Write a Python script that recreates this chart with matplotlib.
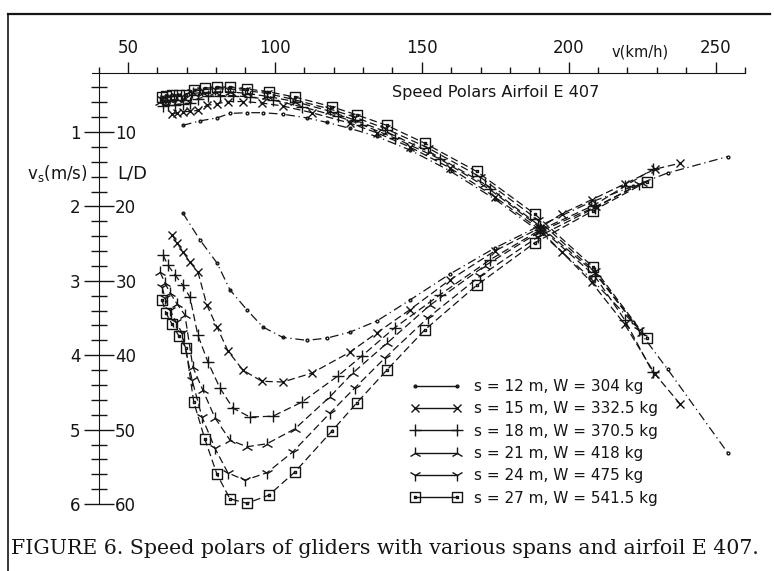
import matplotlib
matplotlib.use('Agg')
import matplotlib.pyplot as plt
import numpy as np
from matplotlib.lines import Line2D
from matplotlib.path import Path

plt.rcParams['font.family'] = ['DejaVu Sans']

# speed v (km/h), sink rate vs (m/s) and glide ratio L/D for each span
v12 = [68.7, 74.5, 80.3, 84.7, 90.5, 95.9, 102.7, 110.9, 117.7, 125.5, 134.7, 145.9, 159.5, 174.8, 190.1, 207.1, 221.8, 233.7, 254.1]
vs12 = [0.91, 0.85, 0.81, 0.75, 0.74, 0.74, 0.76, 0.81, 0.87, 0.95, 1.06, 1.24, 1.52, 1.90, 2.34, 2.95, 3.56, 4.19, 5.31]
ld12 = [20.9, 24.5, 27.6, 31.2, 33.9, 36.2, 37.6, 38.0, 37.7, 36.9, 35.4, 32.6, 29.1, 25.6, 22.6, 19.5, 17.3, 15.5, 13.3]

v15 = [65.0, 66.7, 68.7, 71.1, 73.8, 76.9, 80.3, 84.0, 89.1, 95.6, 102.7, 112.6, 125.5, 134.7, 145.9, 159.5, 174.8, 190.1, 197.6, 207.8, 219.0, 229.3, 237.8]
vs15 = [0.76, 0.74, 0.73, 0.72, 0.71, 0.64, 0.62, 0.59, 0.59, 0.61, 0.65, 0.74, 0.88, 1.01, 1.20, 1.48, 1.87, 2.31, 2.61, 3.02, 3.58, 4.25, 4.65]
ld15 = [23.8, 24.9, 26.1, 27.5, 28.8, 33.3, 36.2, 39.4, 42.0, 43.5, 43.6, 42.4, 39.6, 37.0, 33.9, 29.9, 26.0, 22.9, 21.0, 19.1, 17.0, 15.0, 14.2]

v18 = [61.9, 63.6, 66.0, 68.7, 71.1, 73.8, 77.2, 81.3, 85.7, 91.5, 99.3, 109.2, 121.4, 129.6, 140.8, 156.1, 173.1, 190.1, 208.8, 219.0, 228.6]
vs18 = [0.65, 0.63, 0.63, 0.62, 0.61, 0.55, 0.52, 0.51, 0.51, 0.53, 0.57, 0.66, 0.79, 0.90, 1.08, 1.36, 1.77, 2.28, 2.93, 3.52, 4.23]
ld18 = [26.5, 27.9, 29.2, 30.6, 32.2, 37.3, 40.9, 44.4, 47.1, 48.3, 48.2, 46.3, 42.8, 40.1, 36.3, 31.9, 27.2, 23.2, 19.8, 17.3, 15.0]

v21 = [60.9, 62.6, 64.3, 66.7, 69.4, 72.1, 75.5, 79.6, 84.7, 90.5, 97.3, 106.8, 118.7, 126.5, 138.1, 152.7, 171.4, 190.1, 208.8, 224.8]
vs21 = [0.59, 0.57, 0.57, 0.56, 0.56, 0.48, 0.47, 0.46, 0.46, 0.48, 0.52, 0.59, 0.72, 0.83, 1.00, 1.27, 1.70, 2.26, 2.89, 3.70]
ld21 = [28.8, 30.3, 31.6, 33.1, 34.6, 41.6, 44.7, 48.4, 51.4, 52.3, 51.9, 49.9, 45.6, 42.4, 38.4, 33.3, 28.0, 23.4, 20.1, 16.9]

v24 = [61.6, 62.6, 64.3, 66.3, 68.4, 71.8, 75.2, 79.6, 84.0, 89.8, 97.3, 106.1, 118.7, 127.2, 137.4, 152.0, 169.7, 189.5, 208.8, 224.1]
vs24 = [0.56, 0.54, 0.53, 0.52, 0.51, 0.46, 0.43, 0.42, 0.42, 0.44, 0.48, 0.56, 0.69, 0.80, 0.95, 1.21, 1.60, 2.18, 2.87, 3.66]
ld24 = [30.8, 32.3, 33.9, 35.5, 37.0, 43.3, 48.3, 52.5, 55.8, 56.8, 55.8, 53.0, 47.8, 44.4, 40.4, 35.0, 29.4, 24.1, 20.2, 17.0]

v27 = [61.6, 62.9, 65.0, 67.3, 69.7, 72.4, 76.2, 80.3, 84.7, 90.5, 98.0, 106.8, 119.4, 127.9, 138.1, 151.0, 168.7, 188.4, 208.2, 226.5]
vs27 = [0.53, 0.51, 0.50, 0.50, 0.50, 0.43, 0.41, 0.40, 0.40, 0.42, 0.46, 0.53, 0.66, 0.77, 0.91, 1.15, 1.53, 2.10, 2.81, 3.77]
ld27 = [32.6, 34.3, 35.8, 37.4, 39.0, 46.3, 51.3, 56.0, 59.3, 59.9, 58.8, 55.7, 50.2, 46.4, 42.0, 36.6, 30.6, 24.9, 20.6, 16.7]

labels = ['s = 12 m, W = 304 kg', 's = 15 m, W = 332.5 kg', 's = 18 m, W = 370.5 kg',
          's = 21 m, W = 418 kg', 's = 24 m, W = 475 kg', 's = 27 m, W = 541.5 kg']

# square with a dot in the middle
sq = Path([(-1, -1), (1, -1), (1, 1), (-1, 1), (-1, -1),
           (-0.18, -0.18), (0.18, -0.18), (0.18, 0.18), (-0.18, 0.18), (-0.18, -0.18)],
          [Path.MOVETO, Path.LINETO, Path.LINETO, Path.LINETO, Path.CLOSEPOLY,
           Path.MOVETO, Path.LINETO, Path.LINETO, Path.LINETO, Path.CLOSEPOLY])
dash = (0, (6, 3))
styles = [('.', (0, (7, 3, 1, 3)), 4),
          ('x', dash, 6),
          ('+', dash, 8),
          ('2', dash, 9),
          ('1', dash, 9),
          (sq, dash, 7)]
series = [(v12, vs12, ld12), (v15, vs15, ld15), (v18, vs18, ld18),
          (v21, vs21, ld21), (v24, vs24, ld24), (v27, vs27, ld27)]

ink = '#151515'
fig = plt.figure(figsize=(7.74, 5.71), dpi=100)
ax = fig.add_axes([0.119, 0.1173, 0.8435, 0.7557])
ax.set_xlim(37.8, 260)
ax.set_ylim(6.0, 0.2)
ax_ld = ax.twinx()
ax_ld.set_ylim(60, 2)

for (v, vs, ld), (m, ls, ms) in zip(series, styles):
    ax.plot(v, vs, color=ink, lw=0.9, ls=ls, marker=m, ms=ms, mfc='none', mec=ink, mew=1.0, clip_on=False)
    ax_ld.plot(v, ld, color=ink, lw=0.9, ls=ls, marker=m, ms=ms, mfc='none', mec=ink, mew=1.0, clip_on=False)

# axes: speed on top, sink / L/D on a vertical line at v = 40
for s in ['bottom', 'right']:
    ax.spines[s].set_visible(False)
ax.spines['left'].set_position(('data', 40))
ax.spines['top'].set_color(ink)
ax.spines['left'].set_color(ink)
for s in ['bottom', 'top', 'left']:
    ax_ld.spines[s].set_visible(False)
ax_ld.spines['right'].set_position(('data', 40))
ax_ld.spines['right'].set_color('none')

ax.xaxis.set_ticks_position('top')
ax.set_xticks([50, 100, 150, 200, 250])
ax.set_xticks(np.arange(40, 261, 10), minor=True)
ax.tick_params(axis='x', which='major', direction='out', length=8, width=1, pad=3, labelsize=12, colors=ink)
ax.tick_params(axis='x', which='minor', direction='out', length=4, width=1, colors=ink)

ax.set_yticks([1, 2, 3, 4, 5, 6])
ax.set_yticks([t for t in np.arange(0.4, 6.0, 0.2) if abs(t - round(t)) > 0.05], minor=True)
ax.tick_params(axis='y', which='major', direction='inout', length=22, width=1, pad=2, labelsize=12, colors=ink)
ax.tick_params(axis='y', which='minor', direction='inout', length=12, width=1, colors=ink)

ax_ld.set_yticks([10, 20, 30, 40, 50, 60])
ax_ld.set_yticks([], minor=True)
ax_ld.tick_params(axis='y', which='major', length=0, pad=12, labelsize=12, colors=ink)

fig.text(88 / 774, 1 - 173 / 571, r'v$_\mathregular{s}$(m/s)', ha='right', va='center', fontsize=12, color=ink)
fig.text(117 / 774, 1 - 173 / 571, 'L/D', ha='left', va='center', fontsize=13, color=ink)
fig.text(640 / 774, 1 - 52 / 571, 'v(km/h)', ha='center', va='center', fontsize=10.5, color=ink)
fig.text(392 / 774, 1 - 93 / 571, 'Speed Polars Airfoil E 407', ha='left', va='center', fontsize=11.6, color=ink)

handles = [Line2D([], [], color=ink, lw=1, marker=m, ms=ms, mfc='none', mec=ink, mew=1.0)
           for (m, ls, ms) in styles]
ax.legend(handles, labels, loc='upper left', bbox_to_anchor=(410 / 774, 1 - 379 / 571),
          bbox_transform=fig.transFigure, frameon=False, numpoints=2, handlelength=3.4,
          handletextpad=0.8, labelspacing=0.48, fontsize=11, borderaxespad=0, borderpad=0,
          labelcolor=ink)

# page frame and caption
fig.add_artist(Line2D([8 / 774, 770 / 774], [1 - 14 / 571, 1 - 14 / 571], transform=fig.transFigure, color=ink, lw=1.6))
fig.add_artist(Line2D([8 / 774, 8 / 774], [1 - 14 / 571, 0], transform=fig.transFigure, color=ink, lw=1.2))
fig.text(11 / 774, 1 - 549 / 571, 'FIGURE 6. Speed polars of gliders with various spans and airfoil E 407.',
         ha='left', va='center', fontsize=14.8, family='DejaVu Serif', color=ink)

fig.savefig('out.png', dpi=100)
